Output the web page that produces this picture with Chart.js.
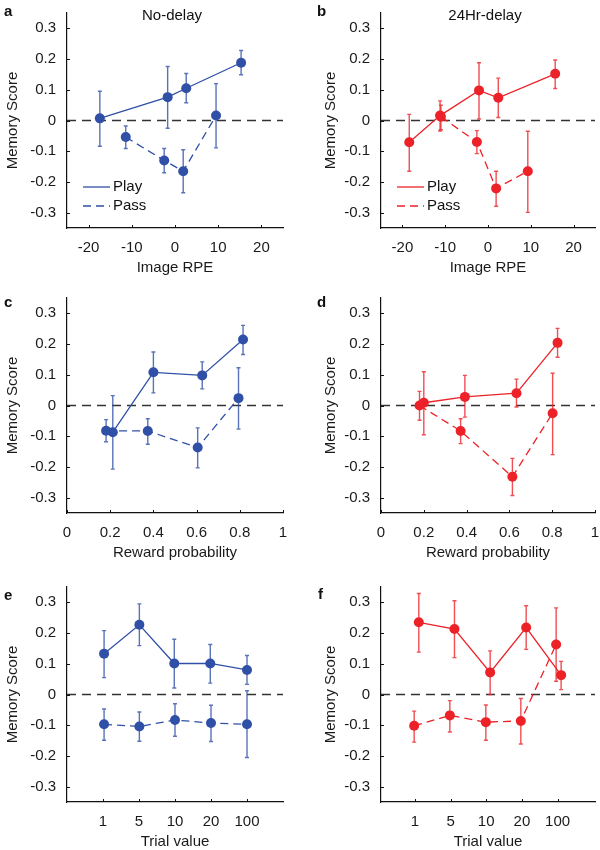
<!DOCTYPE html>
<html>
<head>
<meta charset="utf-8">
<title>Memory score by image RPE, reward probability and trial value</title>
<script src="https://cdn.jsdelivr.net/npm/chart.js@4.4.1/dist/chart.umd.min.js"></script>
<style>
  html, body { margin: 0; padding: 0; background: #fff; overflow: hidden; }
  body { width: 600px; height: 850px; position: relative; font-family: 'Liberation Sans', Arial, Helvetica, sans-serif; }
  canvas { position: absolute; }
  .letter { position: absolute; font-weight: bold; font-size: 15px; line-height: 15px; color: #111; }
  .ptitle { position: absolute; font-size: 15px; line-height: 18px; color: #111; transform: translateX(-50%); white-space: nowrap; }
</style>
</head>
<body>
<canvas id="chartA" width="300" height="280" style="left:0;top:0"></canvas>
<canvas id="chartB" width="300" height="280" style="left:300px;top:0"></canvas>
<canvas id="chartC" width="300" height="280" style="left:0;top:285px"></canvas>
<canvas id="chartD" width="300" height="280" style="left:300px;top:285px"></canvas>
<canvas id="chartE" width="300" height="280" style="left:0;top:574px"></canvas>
<canvas id="chartF" width="300" height="280" style="left:300px;top:574px"></canvas>

<div class="letter" style="left:4px;top:3px">a</div>
<div class="letter" style="left:317px;top:3px">b</div>
<div class="letter" style="left:4px;top:294px">c</div>
<div class="letter" style="left:317px;top:294px">d</div>
<div class="letter" style="left:4px;top:587px">e</div>
<div class="letter" style="left:318px;top:586px">f</div>
<div class="ptitle" style="left:172px;top:6px">No-delay</div>
<div class="ptitle" style="left:485px;top:6px">24Hr-delay</div>

<script>
// Shared ticks
const yTicks = [-0.3, -0.2, -0.1, 0, 0.1, 0.2, 0.3];
const yTickLabels = ['-0.3', '-0.2', '-0.1', '0', '0.1', '0.2', '0.3'];
const rpeTicks = [-20, -10, 0, 10, 20];
const rpeTickLabels = ['-20', '-10', '0', '10', '20'];
const probTicks = [0, 0.2, 0.4, 0.6, 0.8, 1];
const probTickLabels = ['0', '0.2', '0.4', '0.6', '0.8', '1'];
const trialTicks = [1, 2, 3, 4, 5];
const trialTickLabels = ['1', '5', '10', '20', '100'];
const seriesNames = ['Play', 'Pass'];

// a - No-delay, image RPE
const aPlayX = [-17.4, -1.7, 2.6, 15.3];
const aPlayY = [0.007, 0.076, 0.105, 0.188];
const aPlayLo = [-0.084, -0.025, 0.058, 0.149];
const aPlayHi = [0.095, 0.176, 0.153, 0.228];
const aPassX = [-11.4, -2.5, 1.9, 9.5];
const aPassY = [-0.054, -0.13, -0.165, 0.016];
const aPassLo = [-0.091, -0.17, -0.235, -0.089];
const aPassHi = [-0.018, -0.091, -0.095, 0.12];

// b - 24Hr-delay, image RPE
const bPlayX = [-18.4, -11.2, -2.1, 2.4, 15.7];
const bPlayY = [-0.071, 0.016, 0.098, 0.074, 0.152];
const bPlayLo = [-0.165, -0.034, 0.005, 0.01, 0.104];
const bPlayHi = [0.02, 0.064, 0.188, 0.138, 0.197];
const bPassX = [-11.0, -2.6, 1.9, 9.3];
const bPassY = [0.012, -0.07, -0.221, -0.165];
const bPassLo = [-0.03, -0.108, -0.279, -0.299];
const bPassHi = [0.05, -0.033, -0.165, -0.035];

// c - No-delay, reward probability
const cPlayX = [0.212, 0.4, 0.626, 0.815];
const cPlayY = [-0.087, 0.108, 0.098, 0.215];
const cPlayLo = [-0.207, 0.041, 0.054, 0.166];
const cPlayHi = [0.032, 0.174, 0.142, 0.261];
const cPassX = [0.181, 0.374, 0.605, 0.794];
const cPassY = [-0.082, -0.083, -0.137, 0.024];
const cPassLo = [-0.118, -0.126, -0.203, -0.077];
const cPassHi = [-0.046, -0.043, -0.073, 0.123];

// d - 24Hr-delay, reward probability
const dPlayX = [0.2, 0.392, 0.633, 0.825];
const dPlayY = [0.009, 0.028, 0.04, 0.204];
const dPlayLo = [-0.095, -0.038, -0.005, 0.157];
const dPlayHi = [0.11, 0.098, 0.086, 0.251];
const dPassX = [0.18, 0.372, 0.614, 0.802];
const dPassY = [0.0, -0.083, -0.232, -0.025];
const dPassLo = [-0.048, -0.124, -0.293, -0.16];
const dPassHi = [0.046, -0.043, -0.172, 0.105];

// e - No-delay, trial value (x = position of category)
const ePlayX = [1.03, 2.01, 2.98, 3.98, 5.0];
const ePlayY = [0.133, 0.227, 0.101, 0.101, 0.08];
const ePlayLo = [0.055, 0.159, 0.021, 0.037, 0.033];
const ePlayHi = [0.208, 0.295, 0.18, 0.163, 0.127];
const ePassX = [1.03, 2.01, 3.0, 4.0, 5.0];
const ePassY = [-0.097, -0.104, -0.083, -0.093, -0.097];
const ePassLo = [-0.149, -0.152, -0.136, -0.153, -0.205];
const ePassHi = [-0.047, -0.057, -0.03, -0.035, 0.012];

// f - 24Hr-delay, trial value
const fPlayX = [1.11, 2.11, 3.11, 4.12, 5.1];
const fPlayY = [0.235, 0.213, 0.072, 0.218, 0.063];
const fPlayLo = [0.138, 0.12, 0.0, 0.147, 0.016];
const fPlayHi = [0.329, 0.305, 0.142, 0.289, 0.108];
const fPassX = [0.98, 1.98, 2.99, 3.97, 4.96];
const fPassY = [-0.102, -0.068, -0.09, -0.086, 0.163];
const fPassLo = [-0.155, -0.122, -0.149, -0.161, 0.043];
const fPassHi = [-0.054, -0.02, -0.034, -0.013, 0.282];

const BLUE = '#2f50a6';
const RED = '#ec2228';

Chart.defaults.font.family = "'Liberation Sans', Arial, Helvetica, sans-serif";
Chart.defaults.font.size = 15;
Chart.defaults.color = '#1a1a1a';

function series(label, xs, ys, lo, hi, color, dashed) {
    return {
        label: label,
        data: xs.map((x, i) => ({ x: x, y: ys[i] })),
        errLo: lo,
        errHi: hi,
        borderColor: color,
        backgroundColor: color,
        borderWidth: 1.3,
        borderDash: dashed ? [8, 5] : [],
        pointRadius: 5,
        pointHoverRadius: 5,
        pointBorderWidth: 0,
        showLine: true,
        tension: 0
    };
}

// dashed line at y = 0
const zeroLine = {
    id: 'zeroLine',
    beforeDatasetsDraw(chart) {
        const ctx = chart.ctx, area = chart.chartArea;
        const y = chart.scales.y.getPixelForValue(0);
        ctx.save();
        ctx.strokeStyle = '#333';
        ctx.lineWidth = 1.5;
        ctx.setLineDash([9, 6]);
        ctx.beginPath();
        ctx.moveTo(area.left, y);
        ctx.lineTo(area.right, y);
        ctx.stroke();
        ctx.restore();
    }
};

const errorBars = {
    id: 'errorBars',
    beforeDatasetsDraw(chart) {
        const ctx = chart.ctx, yScale = chart.scales.y;
        chart.data.datasets.forEach((ds, i) => {
            const meta = chart.getDatasetMeta(i);
            ctx.save();
            ctx.strokeStyle = ds.borderColor;
            ctx.globalAlpha = 0.8;
            ctx.lineWidth = 1.4;
            meta.data.forEach((pt, j) => {
                const top = yScale.getPixelForValue(ds.errHi[j]);
                const bot = yScale.getPixelForValue(ds.errLo[j]);
                ctx.beginPath();
                ctx.moveTo(pt.x, top); ctx.lineTo(pt.x, bot);
                ctx.moveTo(pt.x - 2, top); ctx.lineTo(pt.x + 2, top);
                ctx.moveTo(pt.x - 2, bot); ctx.lineTo(pt.x + 2, bot);
                ctx.stroke();
            });
            ctx.restore();
        });
    }
};

// small tick marks pointing into the plot
const innerTicks = {
    id: 'innerTicks',
    afterDraw(chart) {
        const ctx = chart.ctx, area = chart.chartArea;
        const xs = chart.scales.x, ys = chart.scales.y;
        ctx.save();
        ctx.strokeStyle = '#111';
        ctx.lineWidth = 1;
        ctx.beginPath();
        xs.ticks.forEach(t => {
            const px = Math.round(xs.getPixelForValue(t.value)) + 0.5;
            ctx.moveTo(px, area.bottom); ctx.lineTo(px, area.bottom - 3);
        });
        ys.ticks.forEach(t => {
            const py = Math.round(ys.getPixelForValue(t.value)) + 0.5;
            ctx.moveTo(area.left, py); ctx.lineTo(area.left + 3, py);
        });
        ctx.stroke();
        ctx.restore();
    }
};

// Play / Pass key in the lower left of the plot
const lineKey = {
    id: 'lineKey',
    afterDraw(chart, args, opts) {
        if (!opts.show) return;
        const ctx = chart.ctx, area = chart.chartArea;
        ctx.save();
        ctx.font = "15px 'Liberation Sans', Arial, sans-serif";
        ctx.textBaseline = 'middle';
        ctx.fillStyle = '#111';
        chart.data.datasets.forEach((ds, i) => {
            const y = area.top + 174 + i * 19;
            ctx.strokeStyle = ds.borderColor;
            ctx.lineWidth = 1.3;
            ctx.setLineDash(ds.borderDash);
            ctx.beginPath();
            ctx.moveTo(area.left + 16, y);
            ctx.lineTo(area.left + 43, y);
            ctx.stroke();
            ctx.fillText(ds.label, area.left + 46, y);
        });
        ctx.restore();
    }
};

function makeChart(id, p) {
    new Chart(document.getElementById(id), {
        type: 'line',
        data: {
            datasets: [
                series(seriesNames[0], p.playX, p.playY, p.playLo, p.playHi, p.color, false),
                series(seriesNames[1], p.passX, p.passY, p.passLo, p.passHi, p.color, true)
            ]
        },
        options: {
            animation: false,
            responsive: false,
            events: [],
            layout: { padding: { top: 13, left: p.padLeft, right: p.padRight, bottom: 0 } },
            plugins: {
                legend: { display: false },
                tooltip: { enabled: false },
                lineKey: { show: p.key }
            },
            scales: {
                x: {
                    type: 'linear',
                    min: p.xMin,
                    max: p.xMax,
                    afterBuildTicks: s => { s.ticks = p.xTicks.map(v => ({ value: v })); },
                    afterFit: s => { s.height = 52; s.paddingLeft = 0; s.paddingRight = 0; },
                    ticks: { padding: 3, maxRotation: 0, autoSkip: false, callback: (v, i) => p.xLabels[i] },
                    grid: { display: false },
                    border: { color: '#111', width: 1.2 },
                    title: { display: true, text: p.xTitle, padding: { top: 0, bottom: 3 } }
                },
                y: {
                    type: 'linear',
                    min: -0.35,
                    max: 0.35,
                    afterBuildTicks: s => { s.ticks = yTicks.map(v => ({ value: v })); },
                    afterFit: s => { s.width = p.yWidth; s.paddingTop = 0; s.paddingBottom = 0; },
                    ticks: { padding: 3, autoSkip: false, callback: (v, i) => yTickLabels[i] },
                    grid: { display: false },
                    border: { color: '#111', width: 1.2 },
                    title: { display: true, text: 'Memory Score', padding: { top: 4, bottom: 0 } }
                }
            }
        },
        plugins: [zeroLine, errorBars, innerTicks, lineKey]
    });
}

const leftCol = { padLeft: 0, yWidth: 67, padRight: 17, color: BLUE };
const rightCol = { padLeft: 18, yWidth: 63, padRight: 3, color: RED };
const rpeAxis = { xMin: -25, xMax: 25, xTicks: rpeTicks, xLabels: rpeTickLabels, xTitle: 'Image RPE' };
const probAxis = { xMin: 0, xMax: 1, xTicks: probTicks, xLabels: probTickLabels, xTitle: 'Reward probability' };
const trialAxis = { xMin: 0, xMax: 6, xTicks: trialTicks, xLabels: trialTickLabels, xTitle: 'Trial value' };

makeChart('chartA', Object.assign({}, leftCol, rpeAxis, { key: true,
    playX: aPlayX, playY: aPlayY, playLo: aPlayLo, playHi: aPlayHi,
    passX: aPassX, passY: aPassY, passLo: aPassLo, passHi: aPassHi }));
makeChart('chartB', Object.assign({}, rightCol, rpeAxis, { key: true,
    playX: bPlayX, playY: bPlayY, playLo: bPlayLo, playHi: bPlayHi,
    passX: bPassX, passY: bPassY, passLo: bPassLo, passHi: bPassHi }));
makeChart('chartC', Object.assign({}, leftCol, probAxis, { key: false,
    playX: cPlayX, playY: cPlayY, playLo: cPlayLo, playHi: cPlayHi,
    passX: cPassX, passY: cPassY, passLo: cPassLo, passHi: cPassHi }));
makeChart('chartD', Object.assign({}, rightCol, probAxis, { key: false,
    playX: dPlayX, playY: dPlayY, playLo: dPlayLo, playHi: dPlayHi,
    passX: dPassX, passY: dPassY, passLo: dPassLo, passHi: dPassHi }));
makeChart('chartE', Object.assign({}, leftCol, trialAxis, { key: false,
    playX: ePlayX, playY: ePlayY, playLo: ePlayLo, playHi: ePlayHi,
    passX: ePassX, passY: ePassY, passLo: ePassLo, passHi: ePassHi }));
makeChart('chartF', Object.assign({}, rightCol, trialAxis, { key: false, xMin: 0.05, xMax: 6.05,
    playX: fPlayX, playY: fPlayY, playLo: fPlayLo, playHi: fPlayHi,
    passX: fPassX, passY: fPassY, passLo: fPassLo, passHi: fPassHi }));
</script>
</body>
</html>
